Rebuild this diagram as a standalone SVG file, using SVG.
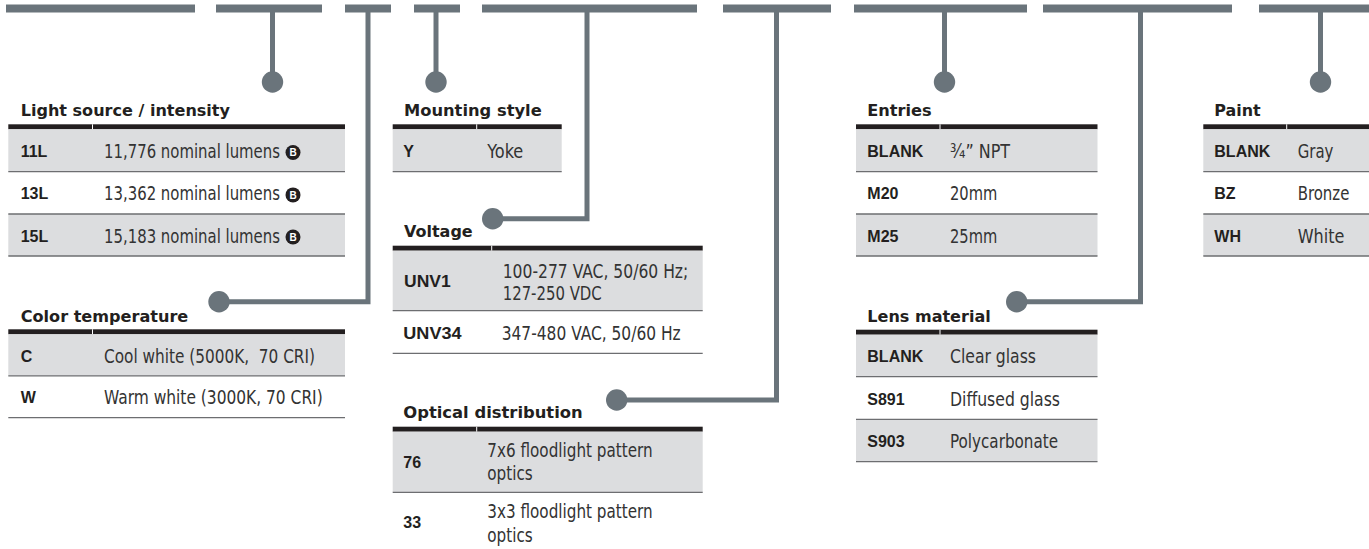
<svg xmlns="http://www.w3.org/2000/svg" width="1369" height="549" viewBox="0 0 1369 549">
<style>
.bar{fill:#6a747b}
.conn{fill:none;stroke:#6a747b;stroke-width:5;stroke-linejoin:miter}
.dot{fill:#6a747b}
.title{font-family:"DejaVu Sans","Liberation Sans",sans-serif;font-weight:bold;font-size:16px;fill:#231f20}
.code{font-family:"Liberation Sans",Arial,sans-serif;font-weight:bold;font-size:16px;fill:#231f20}
.desc{font-family:"Liberation Sans Narrow","DejaVu Sans Condensed","Liberation Sans",sans-serif;font-size:20px;fill:#333333}
.hdr{fill:#231f20}
.gap{fill:#ffffff}
.row{fill:#dcdddf}
.sep{stroke:#6d6e71;stroke-width:1.3}
.fn{fill:#231f20}
.fnt{font-family:"Liberation Sans",Arial,sans-serif;font-weight:bold;font-size:10px;fill:#ffffff}
</style>

<g id="connectors">
  <rect class="bar" x="6" y="4.5" width="189" height="8"/>
  <rect class="bar" x="216" y="4.5" width="106" height="8"/>
  <rect class="bar" x="345" y="4.5" width="46" height="8"/>
  <rect class="bar" x="414" y="4.5" width="46" height="8"/>
  <rect class="bar" x="482" y="4.5" width="215" height="8"/>
  <rect class="bar" x="723" y="4.5" width="108" height="8"/>
  <rect class="bar" x="854" y="4.5" width="173" height="8"/>
  <rect class="bar" x="1043" y="4.5" width="189" height="8"/>
  <rect class="bar" x="1259" y="4.5" width="110" height="8"/>
  <path class="conn" d="M272.5 12 V82"/>
  <path class="conn" d="M368 12 V301.7 H219"/>
  <path class="conn" d="M436 12 V82"/>
  <path class="conn" d="M587 12 V218.7 H492.7"/>
  <path class="conn" d="M776.5 12 V400 H616.7"/>
  <path class="conn" d="M944.5 12 V82"/>
  <path class="conn" d="M1140.5 12 V301.7 H1016.7"/>
  <path class="conn" d="M1320.5 12 V82"/>
  <circle class="dot" cx="272.5" cy="82" r="10.7"/>
  <circle class="dot" cx="219" cy="301.7" r="10.7"/>
  <circle class="dot" cx="436" cy="82" r="10.7"/>
  <circle class="dot" cx="492.7" cy="218.7" r="10.7"/>
  <circle class="dot" cx="616.7" cy="400" r="10.7"/>
  <circle class="dot" cx="944.5" cy="82" r="10.7"/>
  <circle class="dot" cx="1016.7" cy="301.7" r="10.7"/>
  <circle class="dot" cx="1320.5" cy="82" r="10.7"/>
</g>

<g id="light-source">
  <text class="title" x="20.7" y="116" textLength="209.3" lengthAdjust="spacingAndGlyphs">Light source / intensity</text>
  <rect class="hdr" x="8.3" y="124.3" width="336.7" height="5"/>
  <rect class="gap" x="92" y="124.3" width="1" height="5"/>
  <rect class="row" x="8.3" y="129.3" width="336.7" height="42.4"/>
  <rect class="row" x="8.3" y="214" width="336.7" height="42"/>
  <line class="sep" x1="8.3" y1="171.7" x2="345" y2="171.7"/>
  <line class="sep" x1="8.3" y1="214" x2="345" y2="214"/>
  <line class="sep" x1="8.3" y1="256" x2="345" y2="256"/>
  <circle class="fn" cx="293" cy="152.5" r="7.5"/>
  <circle class="fn" cx="293" cy="194.9" r="7.5"/>
  <circle class="fn" cx="293" cy="237" r="7.5"/>
  <text class="code" x="20.7" y="157">11L</text>
  <text class="desc" x="104" y="158"><tspan textLength="176" lengthAdjust="spacingAndGlyphs">11,776 nominal lumens</tspan><tspan class="fnt" x="289.4" y="156.1">B</tspan></text>
  <text class="code" x="20.7" y="199.4">13L</text>
  <text class="desc" x="104" y="200.4"><tspan textLength="176" lengthAdjust="spacingAndGlyphs">13,362 nominal lumens</tspan><tspan class="fnt" x="289.4" y="198.5">B</tspan></text>
  <text class="code" x="20.7" y="241.5">15L</text>
  <text class="desc" x="104" y="242.5"><tspan textLength="176" lengthAdjust="spacingAndGlyphs">15,183 nominal lumens</tspan><tspan class="fnt" x="289.4" y="240.6">B</tspan></text>
</g>

<g id="color-temperature">
  <text class="title" x="20.7" y="321.7" textLength="167.6" lengthAdjust="spacingAndGlyphs">Color temperature</text>
  <rect class="hdr" x="8.3" y="329.3" width="336.7" height="5"/>
  <rect class="gap" x="92" y="329.3" width="1" height="5"/>
  <rect class="row" x="8.3" y="334.3" width="336.7" height="41.5"/>
  <line class="sep" x1="8.3" y1="375.8" x2="345" y2="375.8"/>
  <line class="sep" x1="8.3" y1="417.7" x2="345" y2="417.7"/>
  <text class="code" x="20.7" y="361.5">C</text>
  <text class="desc" x="104" y="362.5" xml:space="preserve" textLength="211" lengthAdjust="spacingAndGlyphs">Cool white (5000K,  70 CRI)</text>
  <text class="code" x="20.7" y="403.2">W</text>
  <text class="desc" x="104" y="404.2" textLength="218.7" lengthAdjust="spacingAndGlyphs">Warm white (3000K, 70 CRI)</text>
</g>

<g id="mounting-style">
  <text class="title" x="404" y="116" textLength="137.7" lengthAdjust="spacingAndGlyphs">Mounting style</text>
  <rect class="hdr" x="392.7" y="124.3" width="169" height="5"/>
  <rect class="gap" x="476.2" y="124.3" width="1" height="5"/>
  <rect class="row" x="392.7" y="129.3" width="169" height="42.4"/>
  <line class="sep" x1="392.7" y1="171.7" x2="561.7" y2="171.7"/>
  <text class="code" x="403.3" y="157">Y</text>
  <text class="desc" x="487.3" y="158" textLength="36" lengthAdjust="spacingAndGlyphs">Yoke</text>
</g>

<g id="voltage">
  <text class="title" x="404" y="237.3" textLength="68.7" lengthAdjust="spacingAndGlyphs">Voltage</text>
  <rect class="hdr" x="392.7" y="245.7" width="310" height="5"/>
  <rect class="gap" x="491.2" y="245.7" width="1" height="5"/>
  <rect class="row" x="392.7" y="250.7" width="310" height="60"/>
  <line class="sep" x1="392.7" y1="310.7" x2="702.7" y2="310.7"/>
  <line class="sep" x1="392.7" y1="353.3" x2="702.7" y2="353.3"/>
  <text class="code" x="404" y="287.3" textLength="46.7" lengthAdjust="spacingAndGlyphs">UNV1</text>
  <text class="desc" x="502.7" y="278.3" textLength="185.6" lengthAdjust="spacingAndGlyphs">100-277 VAC, 50/60 Hz;</text>
  <text class="desc" x="502.7" y="300" textLength="99" lengthAdjust="spacingAndGlyphs">127-250 VDC</text>
  <text class="code" x="403.3" y="338.5" textLength="58.3" lengthAdjust="spacingAndGlyphs">UNV34</text>
  <text class="desc" x="501.7" y="340" textLength="179" lengthAdjust="spacingAndGlyphs">347-480 VAC, 50/60 Hz</text>
</g>

<g id="optical-distribution">
  <text class="title" x="403.3" y="418.3" textLength="179.4" lengthAdjust="spacingAndGlyphs">Optical distribution</text>
  <rect class="hdr" x="392.7" y="426.7" width="310" height="5"/>
  <rect class="gap" x="476.2" y="426.7" width="1" height="5"/>
  <rect class="row" x="392.7" y="431.7" width="310" height="60.6"/>
  <line class="sep" x1="392.7" y1="492.3" x2="702.7" y2="492.3"/>
  <text class="code" x="403.3" y="468.3">76</text>
  <text class="desc" x="487.3" y="456.7" textLength="165.4" lengthAdjust="spacingAndGlyphs">7x6 floodlight pattern</text>
  <text class="desc" x="487.3" y="480" textLength="45.4" lengthAdjust="spacingAndGlyphs">optics</text>
  <text class="code" x="403.3" y="528.3">33</text>
  <text class="desc" x="487.3" y="518.3" textLength="165.4" lengthAdjust="spacingAndGlyphs">3x3 floodlight pattern</text>
  <text class="desc" x="487.3" y="541.7" textLength="45.4" lengthAdjust="spacingAndGlyphs">optics</text>
</g>

<g id="entries">
  <text class="title" x="867.3" y="116" textLength="64.4" lengthAdjust="spacingAndGlyphs">Entries</text>
  <rect class="hdr" x="856" y="124.3" width="241.5" height="5"/>
  <rect class="gap" x="939.5" y="124.3" width="1" height="5"/>
  <rect class="row" x="856" y="129.3" width="241.5" height="42.4"/>
  <rect class="row" x="856" y="214" width="241.5" height="42"/>
  <line class="sep" x1="856" y1="171.7" x2="1097.5" y2="171.7"/>
  <line class="sep" x1="856" y1="214" x2="1097.5" y2="214"/>
  <line class="sep" x1="856" y1="256" x2="1097.5" y2="256"/>
  <text class="code" x="867.3" y="157">BLANK</text>
  <text class="desc" x="950" y="158" textLength="60" lengthAdjust="spacingAndGlyphs">¾” NPT</text>
  <text class="code" x="867.3" y="199.4">M20</text>
  <text class="desc" x="950" y="200.4" textLength="47.3" lengthAdjust="spacingAndGlyphs">20mm</text>
  <text class="code" x="867.3" y="241.5">M25</text>
  <text class="desc" x="950" y="242.5" textLength="47.3" lengthAdjust="spacingAndGlyphs">25mm</text>
</g>

<g id="lens-material">
  <text class="title" x="867.3" y="321.7" textLength="123.4" lengthAdjust="spacingAndGlyphs">Lens material</text>
  <rect class="hdr" x="856" y="329.7" width="241.5" height="5"/>
  <rect class="gap" x="939.5" y="329.7" width="1" height="5"/>
  <rect class="row" x="856" y="334.7" width="241.5" height="42"/>
  <rect class="row" x="856" y="419.3" width="241.5" height="42.4"/>
  <line class="sep" x1="856" y1="376.7" x2="1097.5" y2="376.7"/>
  <line class="sep" x1="856" y1="419.3" x2="1097.5" y2="419.3"/>
  <line class="sep" x1="856" y1="461.7" x2="1097.5" y2="461.7"/>
  <text class="code" x="867.3" y="362.2">BLANK</text>
  <text class="desc" x="950" y="363.2" textLength="86" lengthAdjust="spacingAndGlyphs">Clear glass</text>
  <text class="code" x="867.3" y="404.5">S891</text>
  <text class="desc" x="950" y="405.5" textLength="110" lengthAdjust="spacingAndGlyphs">Diffused glass</text>
  <text class="code" x="867.3" y="447">S903</text>
  <text class="desc" x="950" y="448" textLength="108" lengthAdjust="spacingAndGlyphs">Polycarbonate</text>
</g>

<g id="paint">
  <text class="title" x="1214.3" y="116" textLength="46.4" lengthAdjust="spacingAndGlyphs">Paint</text>
  <rect class="hdr" x="1203.3" y="124.3" width="165.7" height="5"/>
  <rect class="gap" x="1286.2" y="124.3" width="1" height="5"/>
  <rect class="row" x="1203.3" y="129.3" width="165.7" height="42.4"/>
  <rect class="row" x="1203.3" y="214" width="165.7" height="42"/>
  <line class="sep" x1="1203.3" y1="171.7" x2="1369" y2="171.7"/>
  <line class="sep" x1="1203.3" y1="214" x2="1369" y2="214"/>
  <line class="sep" x1="1203.3" y1="256" x2="1369" y2="256"/>
  <text class="code" x="1214.3" y="157">BLANK</text>
  <text class="desc" x="1297.7" y="158" textLength="35.7" lengthAdjust="spacingAndGlyphs">Gray</text>
  <text class="code" x="1214.3" y="199.4">BZ</text>
  <text class="desc" x="1297.7" y="200.4" textLength="51.7" lengthAdjust="spacingAndGlyphs">Bronze</text>
  <text class="code" x="1214.3" y="241.5">WH</text>
  <text class="desc" x="1297.7" y="242.5" textLength="46.7" lengthAdjust="spacingAndGlyphs">White</text>
</g>
</svg>
